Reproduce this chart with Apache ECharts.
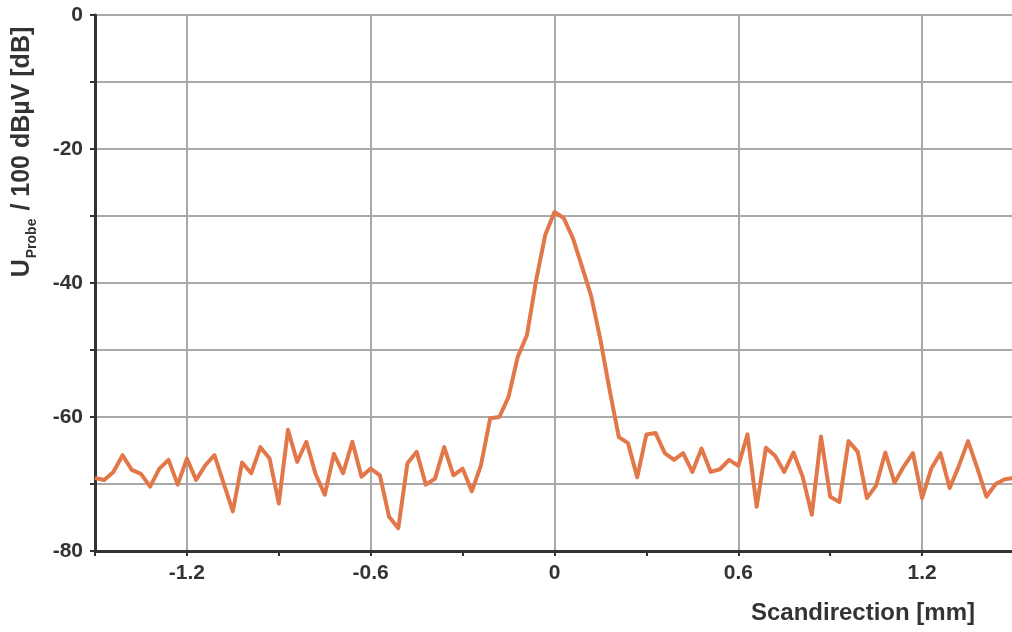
<!DOCTYPE html>
<html>
<head>
<meta charset="utf-8">
<script src="https://cdn.jsdelivr.net/npm/echarts@6/dist/echarts.min.js"></script>
<style>
html,body{margin:0;padding:0;background:#fff;}
#c{width:1012px;height:632px;}
</style>
</head>
<body>
<div id="c"></div>
<script>
// Scan positions (mm), step 0.03 from -1.5 to 1.5
const xStart = -1.5;
const xStep = 0.03;
// Probe voltage (dB)
const probeDb = [
  -69.1, -69.4, -68.2, -65.7, -67.9, -68.5, -70.4, -67.7, -66.4, -70.1,
  -66.2, -69.4, -67.2, -65.7, -69.9, -74.1, -66.8, -68.4, -64.5, -66.2,
  -72.9, -61.9, -66.7, -63.7, -68.5, -71.6, -65.5, -68.4, -63.7, -68.9,
  -67.7, -68.7, -74.9, -76.6, -66.9, -65.2, -70.1, -69.2, -64.5, -68.7,
  -67.7, -71.1, -67.2, -60.2, -60.0, -57.0, -51.0, -47.8, -39.6, -32.8,
  -29.4, -30.3, -33.3, -37.6, -42.0, -48.5, -56.0, -63.0, -63.9, -69.0,
  -62.6, -62.4, -65.4, -66.4, -65.4, -68.2, -64.7, -68.2, -67.8, -66.4,
  -67.3, -62.6, -73.4, -64.6, -65.8, -68.2, -65.3, -68.9, -74.6, -62.9,
  -71.9, -72.7, -63.6, -65.2, -72.1, -70.2, -65.3, -69.8, -67.4, -65.4,
  -72.1, -67.7, -65.4, -70.6, -67.3, -63.6, -67.6, -71.9, -70.0, -69.3,
  -69.1
];
const xLabels = [-1.2, -0.6, 0, 0.6, 1.2];
const yLabels = [0, -20, -40, -60, -80];

const seriesData = probeDb.map((v, i) => [Math.round((xStart + i * xStep) * 1000) / 1000, v]);

const textColor = '#333333';
const fontFamily = '"Liberation Sans", Arial, Helvetica, sans-serif';
const gridColor = '#a9a9a9';

const chart = echarts.init(document.getElementById('c'));
chart.setOption({
  animation: false,
  backgroundColor: '#ffffff',
  grid: { left: 95, top: 15, width: 919, height: 536, containLabel: false, outerBoundsMode: 'none' },
  xAxis: {
    type: 'value',
    min: -1.5,
    max: 1.5,
    interval: 0.3,
    axisLine: { show: true, onZero: false, lineStyle: { color: textColor, width: 3 } },
    axisTick: { show: true, length: 5, lineStyle: { color: textColor, width: 2 } },
    axisLabel: {
      margin: 12,
      color: textColor,
      fontSize: 21,
      fontWeight: 'bold',
      fontFamily: fontFamily,
      formatter: function (v) {
        const r = Math.round(v * 10) / 10;
        for (const l of xLabels) {
          if (Math.abs(l - r) < 1e-6) return l === 0 ? '0' : l.toFixed(1);
        }
        return '';
      }
    },
    splitLine: { show: true, lineStyle: { color: ['rgba(0,0,0,0)', gridColor], width: 2 } }
  },
  yAxis: {
    type: 'value',
    min: -80,
    max: 0,
    interval: 10,
    axisLine: { show: true, onZero: false, lineStyle: { color: textColor, width: 3 } },
    axisTick: { show: true, length: 5, lineStyle: { color: textColor, width: 2 } },
    axisLabel: {
      margin: 12,
      color: textColor,
      fontSize: 21,
      fontWeight: 'bold',
      fontFamily: fontFamily,
      formatter: function (v) {
        return yLabels.indexOf(Math.round(v)) >= 0 ? String(Math.round(v)) : '';
      }
    },
    splitLine: { show: true, lineStyle: { color: gridColor, width: 2 } }
  },
  graphic: [
    {
      type: 'text',
      x: 23,
      y: 152,
      rotation: Math.PI / 2,
      style: {
        text: '{a|U}{b|Probe}{a| / 100 dBµV [dB]}',
        align: 'center',
        verticalAlign: 'middle',
        fill: textColor,
        rich: {
          a: { fontSize: 25, lineHeight: 26, fontWeight: 'bold', fontFamily: fontFamily, fill: textColor, verticalAlign: 'top' },
          b: { fontSize: 14, lineHeight: 14, fontWeight: 'bold', fontFamily: fontFamily, fill: textColor, verticalAlign: 'top', padding: [15, 1, 0, 1] }
        }
      }
    },
    {
      type: 'text',
      x: 975,
      y: 613,
      style: {
        text: 'Scandirection [mm]',
        align: 'right',
        verticalAlign: 'middle',
        fontSize: 24,
        fontWeight: 'bold',
        fontFamily: fontFamily,
        fill: textColor
      }
    }
  ],
  series: [
    {
      type: 'line',
      data: seriesData,
      showSymbol: false,
      symbol: 'none',
      lineStyle: { color: '#e2784a', width: 4, join: 'round' },
      z: 3
    }
  ]
});
</script>
</body>
</html>
